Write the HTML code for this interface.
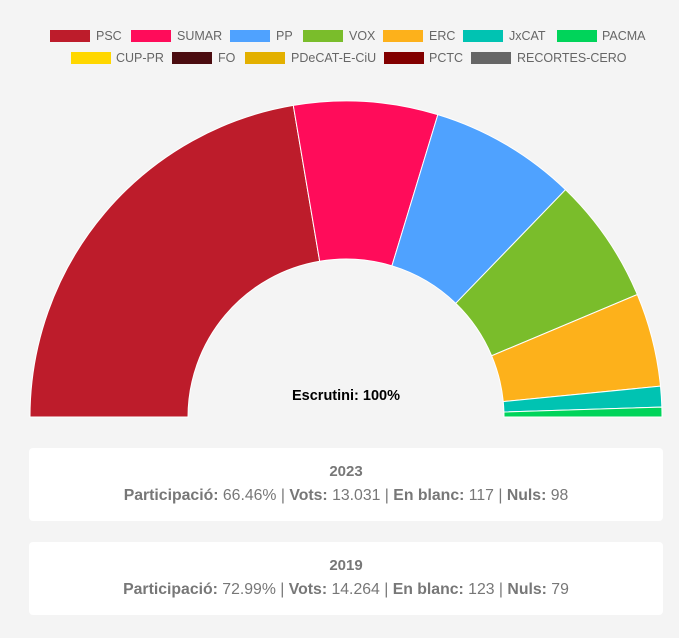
<!DOCTYPE html><html><head><style>
body{margin:0;width:679px;height:638px;background:#f4f4f4;font-family:"Liberation Sans",sans-serif;position:relative;overflow:hidden}
.b{position:absolute;width:40px;height:12px}
.t{position:absolute;font-size:12.5px;color:#666;line-height:14px}
.box{position:absolute;left:29px;width:634px;height:73px;background:#fff;border-radius:4px;text-align:center;color:#777;font-size:15.8px}
.box .y{font-weight:bold;margin-top:15px;line-height:18px;font-size:15px}
.box .l{margin-top:6px;line-height:18px}
</style></head><body>
<div class="b" style="left:50px;top:30px;background:#bd1c2b"></div><div class="t" style="left:96px;top:29px">PSC</div>
<div class="b" style="left:131px;top:30px;background:#ff0c5a"></div><div class="t" style="left:177px;top:29px">SUMAR</div>
<div class="b" style="left:230px;top:30px;background:#4fa2ff"></div><div class="t" style="left:276px;top:29px">PP</div>
<div class="b" style="left:303px;top:30px;background:#7abd2b"></div><div class="t" style="left:349px;top:29px">VOX</div>
<div class="b" style="left:383px;top:30px;background:#fdb11b"></div><div class="t" style="left:429px;top:29px">ERC</div>
<div class="b" style="left:463px;top:30px;background:#00c3b2"></div><div class="t" style="left:509px;top:29px">JxCAT</div>
<div class="b" style="left:557px;top:30px;background:#00d45a"></div><div class="t" style="left:602px;top:29px">PACMA</div>
<div class="b" style="left:71px;top:52px;background:#ffd700"></div><div class="t" style="left:116px;top:51px">CUP-PR</div>
<div class="b" style="left:172px;top:52px;background:#4b0c10"></div><div class="t" style="left:218px;top:51px">FO</div>
<div class="b" style="left:245px;top:52px;background:#e3b000"></div><div class="t" style="left:291px;top:51px">PDeCAT-E-CiU</div>
<div class="b" style="left:384px;top:52px;background:#820000"></div><div class="t" style="left:429px;top:51px">PCTC</div>
<div class="b" style="left:471px;top:52px;background:#666"></div><div class="t" style="left:517px;top:51px">RECORTES-CERO</div>
<svg id="s" width="679" height="638" style="position:absolute;left:0;top:0"></svg>
<div style="position:absolute;left:246px;width:200px;top:388px;text-align:center;font-weight:bold;font-size:14.5px;color:#000">Escrutini: 100%</div>
<div class="box" style="top:448px"><div class="y">2023</div><div class="l"><b>Participació:</b> 66.46% | <b>Vots:</b> 13.031 | <b>En blanc:</b> 117 | <b>Nuls:</b> 98</div></div>
<div class="box" style="top:542px"><div class="y">2019</div><div class="l"><b>Participació:</b> 72.99% | <b>Vots:</b> 14.264 | <b>En blanc:</b> 123 | <b>Nuls:</b> 79</div></div>
<script>
var cx=346,cy=417,R=316,r=158,segs=[[180,99.6,"#bd1c2b"],[99.6,73.1,"#ff0c5a"],[73.1,46,"#4fa2ff"],[46,22.8,"#7abd2b"],[22.8,5.6,"#fdb11b"],[5.6,1.8,"#00c3b2"],[1.8,0,"#00d45a"]],h="";
function p(a,rr){a=a*Math.PI/180;return (cx+rr*Math.cos(a)).toFixed(2)+" "+(cy-rr*Math.sin(a)).toFixed(2)}
segs.forEach(function(s){h+='<path d="M'+p(s[0],R)+' A'+R+' '+R+' 0 0 1 '+p(s[1],R)+' L'+p(s[1],r)+' A'+r+' '+r+' 0 0 0 '+p(s[0],r)+' Z" fill="'+s[2]+'" stroke="#fff" stroke-width="1"/>'});
document.getElementById("s").innerHTML=h;
</script>
</body></html>
